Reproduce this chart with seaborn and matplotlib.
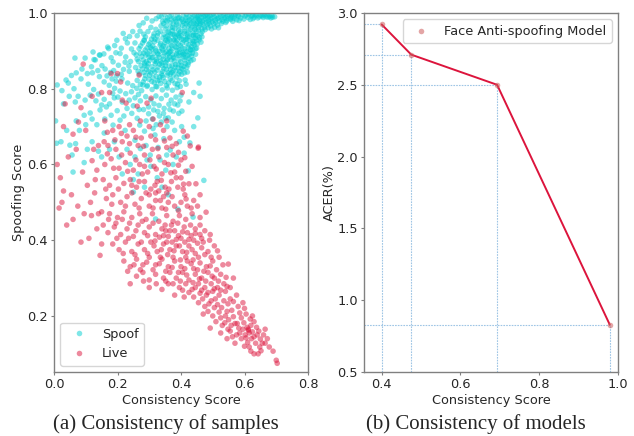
import matplotlib
matplotlib.use("Agg")
import matplotlib.pyplot as plt
import seaborn as sns
import pandas as pd

sns.set_style("ticks")
plt.rcParams['font.family'] = ['DejaVu Sans']

# ---------------- data ----------------
spoof_points = [
    # top tail
    (0.450,0.972),(0.452,0.991),(0.458,0.982),(0.462,0.998),(0.468,0.976),(0.471,0.990),(0.478,0.984),(0.481,0.997),
    (0.487,0.979),(0.491,0.993),(0.497,0.986),(0.502,0.998),(0.508,0.981),(0.512,0.992),(0.518,0.987),(0.523,0.997),
    (0.529,0.983),(0.533,0.994),(0.541,0.988),(0.548,0.985),(0.552,0.996),(0.561,0.990),(0.567,0.986),(0.572,0.997),
    (0.581,0.991),(0.588,0.987),(0.593,0.996),(0.602,0.992),(0.611,0.988),(0.614,0.997),(0.622,0.992),(0.631,0.989),
    (0.638,0.993),(0.647,0.990),(0.656,0.992),(0.668,0.990),(0.679,0.991),(0.688,0.989),(0.695,0.990),(0.634,0.996),
    (0.662,0.995),(0.583,0.980),(0.563,0.978),(0.541,0.975),(0.527,0.972),(0.515,0.968),(0.503,0.971),(0.493,0.966),
    (0.483,0.969),(0.474,0.962),(0.466,0.958),
    (0.322,0.985),(0.338,0.990),(0.351,0.981),(0.364,0.991),(0.378,0.986),(0.394,0.988),(0.418,0.996),(0.441,0.993),
    (0.456,0.994),(0.469,0.996),(0.484,0.992),(0.497,0.996),(0.539,0.999),(0.559,0.995),(0.579,0.994),(0.606,0.995),
    (0.625,0.994),(0.652,0.994),(0.671,0.995),(0.686,0.993),(0.683,0.987),(0.674,0.989),(0.659,0.988),(0.642,0.987),
    (0.627,0.985),(0.618,0.983),(0.598,0.984),(0.575,0.982),(0.556,0.983),(0.544,0.979),(0.532,0.978),(0.521,0.979),
    (0.509,0.975),(0.498,0.977),(0.488,0.973),(0.479,0.975),(0.469,0.969),(0.461,0.972),(0.455,0.955),(0.467,0.951),
    (0.476,0.956),(0.485,0.961),(0.496,0.958),(0.506,0.962),(0.518,0.961),(0.447,0.941),(0.458,0.935),
    (0.345,0.972),(0.356,0.979),(0.369,0.983),(0.376,0.971),(0.384,0.977),(0.391,0.986),(0.402,0.984),(0.409,0.973),
    (0.416,0.988),(0.421,0.978),(0.427,0.969),(0.433,0.987),(0.438,0.979),(0.444,0.957),(0.449,0.989),(0.454,0.985),
    (0.460,0.979),(0.464,0.988),(0.472,0.981),(0.477,0.993),(0.485,0.987),(0.493,0.982),(0.505,0.989),(0.514,0.985),
    (0.526,0.991),(0.536,0.987),(0.546,0.992),(0.557,0.987),(0.569,0.992),
    # upper band
    (0.331,0.991),(0.342,0.978),(0.348,0.996),(0.353,0.966),(0.357,0.987),(0.362,0.948),(0.366,0.975),(0.371,0.996),
    (0.374,0.962),(0.379,0.942),(0.382,0.983),(0.386,0.970),(0.389,0.995),(0.393,0.955),(0.397,0.979),(0.401,0.940),
    (0.404,0.967),(0.407,0.992),(0.412,0.952),(0.415,0.981),(0.419,0.944),(0.422,0.965),(0.425,0.990),(0.429,0.956),
    (0.432,0.974),(0.436,0.997),(0.439,0.941),(0.442,0.963),(0.445,0.984),(0.448,0.951),(0.455,0.962),(0.361,0.932),
    (0.388,0.929),(0.414,0.931),(0.437,0.927),(0.452,0.940),(0.463,0.945),
    (0.283,0.944),(0.296,0.951),(0.305,0.962),(0.313,0.938),(0.321,0.957),(0.328,0.947),(0.337,0.966),(0.346,0.944),
    (0.351,0.958),(0.359,0.951),(0.367,0.962),(0.373,0.953),(0.381,0.958),(0.387,0.944),(0.392,0.966),(0.399,0.952),
    (0.406,0.978),(0.411,0.961),(0.417,0.972),(0.423,0.951),(0.428,0.982),(0.434,0.962),(0.441,0.973),(0.447,0.969),
    (0.453,0.977),(0.459,0.968),
    (0.352,0.937),(0.365,0.929),(0.374,0.944),(0.383,0.936),(0.392,0.941),(0.402,0.931),(0.411,0.946),(0.420,0.937),
    (0.428,0.927),(0.435,0.941),(0.442,0.916),(0.449,0.928),
    # dense core
    (0.288,0.937),(0.307,0.931),(0.326,0.940),(0.343,0.934),(0.358,0.939),(0.377,0.930),(0.396,0.936),(0.409,0.928),
    (0.426,0.938),(0.441,0.925),(0.279,0.921),(0.298,0.917),(0.316,0.924),(0.334,0.915),(0.349,0.922),(0.366,0.918),
    (0.384,0.923),(0.398,0.914),(0.417,0.920),(0.433,0.912),(0.451,0.918),(0.268,0.906),(0.287,0.902),(0.304,0.909),
    (0.321,0.900),(0.339,0.907),(0.353,0.898),(0.372,0.905),(0.388,0.901),(0.403,0.908),(0.419,0.897),(0.437,0.903),
    (0.446,0.891),(0.259,0.889),(0.276,0.885),(0.296,0.892),(0.311,0.883),(0.329,0.890),(0.344,0.886),(0.361,0.893),
    (0.378,0.881),(0.393,0.888),(0.408,0.884),(0.425,0.880),(0.266,0.872),(0.285,0.868),(0.301,0.875),(0.319,0.866),
    (0.336,0.873),(0.352,0.869),(0.369,0.876),(0.383,0.864),(0.399,0.871),(0.414,0.867),(0.431,0.874),(0.257,0.856),
    (0.278,0.852),(0.293,0.859),(0.312,0.850),(0.327,0.857),(0.346,0.853),(0.363,0.860),(0.375,0.848),(0.391,0.855),
    (0.406,0.851),(0.269,0.839),(0.288,0.835),(0.305,0.842),(0.322,0.833),(0.338,0.840),(0.357,0.836),(0.371,0.843),
    (0.386,0.831),(0.402,0.838),(0.262,0.822),(0.281,0.818),(0.299,0.825),(0.316,0.816),(0.332,0.823),(0.349,0.819),
    (0.366,0.826),(0.381,0.814),(0.395,0.821),(0.315,0.945),(0.335,0.952),(0.352,0.928),(0.368,0.944),(0.381,0.912),
    (0.395,0.947),(0.405,0.895),(0.422,0.908),(0.438,0.948),(0.301,0.898),(0.322,0.878),(0.341,0.861),(0.358,0.878),
    (0.373,0.890),(0.392,0.864),(0.411,0.876),(0.428,0.893),(0.344,0.913),(0.362,0.906),(0.318,0.931),(0.332,0.899),
    (0.273,0.913),(0.284,0.927),(0.293,0.908),(0.302,0.921),(0.311,0.913),(0.319,0.906),(0.327,0.928),(0.336,0.919),
    (0.342,0.902),(0.351,0.911),(0.358,0.925),(0.364,0.897),(0.371,0.914),(0.378,0.927),(0.385,0.909),(0.391,0.918),
    (0.397,0.896),(0.404,0.921),(0.411,0.906),(0.418,0.931),(0.425,0.916),(0.431,0.902),(0.438,0.919),(0.444,0.934),
    (0.449,0.907),(0.457,0.929),(0.262,0.878),(0.271,0.894),(0.281,0.876),(0.289,0.889),(0.297,0.866),(0.306,0.882),
    (0.314,0.893),(0.323,0.871),(0.331,0.883),(0.339,0.868),(0.347,0.895),(0.355,0.874),(0.364,0.884),(0.372,0.861),
    (0.379,0.873),(0.387,0.889),(0.394,0.877),(0.401,0.862),(0.409,0.891),(0.416,0.883),(0.423,0.869),(0.433,0.886),
    (0.439,0.877),(0.265,0.846),(0.274,0.861),(0.283,0.843),(0.292,0.851),(0.301,0.836),(0.309,0.858),(0.317,0.844),
    (0.325,0.849),(0.333,0.831),(0.342,0.846),(0.351,0.861),(0.359,0.842),(0.367,0.851),(0.376,0.836),(0.384,0.847),
    (0.393,0.839),(0.401,0.853),(0.411,0.842),(0.418,0.856),(0.272,0.811),(0.286,0.826),(0.294,0.809),(0.308,0.819),
    (0.321,0.806),(0.336,0.814),(0.344,0.829),(0.354,0.808),(0.361,0.815),(0.372,0.822),(0.389,0.812),(0.398,0.806),
    (0.357,0.889),(0.368,0.899),(0.375,0.883),(0.386,0.893),(0.395,0.903),(0.403,0.889),(0.413,0.898),(0.421,0.888),
    (0.429,0.904),(0.436,0.894),(0.345,0.878),(0.333,0.865),(0.326,0.893),(0.317,0.873),(0.308,0.905),(0.299,0.884),
    (0.291,0.872),(0.283,0.894),(0.354,0.851),(0.366,0.839),(0.381,0.857),(0.396,0.845),(0.409,0.859),(0.326,0.821),
    (0.341,0.835),(0.312,0.829),(0.298,0.846),(0.286,0.862),
    # medium density
    (0.172,0.906),(0.191,0.914),(0.198,0.928),(0.218,0.946),(0.248,0.951),(0.268,0.967),(0.281,0.974),(0.292,0.986),
    (0.309,0.979),(0.284,0.929),(0.231,0.921),(0.244,0.905),(0.208,0.893),(0.226,0.884),(0.241,0.872),(0.186,0.871),
    (0.203,0.862),(0.219,0.851),(0.237,0.846),(0.161,0.852),(0.178,0.843),(0.197,0.834),(0.214,0.826),(0.232,0.815),
    (0.248,0.808),(0.143,0.832),(0.158,0.818),(0.174,0.809),(0.191,0.801),(0.208,0.794),(0.226,0.787),(0.244,0.792),
    (0.261,0.801),(0.276,0.795),(0.293,0.806),(0.309,0.798),(0.324,0.805),(0.341,0.797),(0.357,0.802),(0.373,0.796),
    (0.388,0.803),(0.255,0.776),(0.272,0.768),(0.289,0.779),(0.305,0.771),(0.321,0.781),(0.338,0.774),(0.354,0.783),
    (0.369,0.770),(0.384,0.778),(0.298,0.752),(0.314,0.744),(0.331,0.756),(0.347,0.748),(0.362,0.759),(0.376,0.741),
    (0.332,0.728),(0.351,0.722),(0.298,0.734),(0.282,0.745),(0.126,0.877),(0.143,0.889),(0.157,0.892),(0.169,0.910),
    (0.188,0.848),(0.121,0.842),
    (0.180,0.882),(0.195,0.895),(0.212,0.907),(0.225,0.932),(0.238,0.938),(0.255,0.921),(0.262,0.940),(0.271,0.952),
    (0.252,0.895),(0.236,0.860),(0.224,0.870),(0.212,0.838),(0.196,0.820),(0.183,0.826),(0.167,0.834),(0.151,0.861),
    (0.138,0.848),(0.118,0.858),(0.105,0.840),(0.088,0.852),(0.070,0.842),(0.055,0.835),(0.025,0.795),(0.048,0.780),
    (0.067,0.765),(0.132,0.768),(0.150,0.757),(0.185,0.788),(0.201,0.778),(0.237,0.770),(0.250,0.755),(0.266,0.785),
    (0.280,0.810),(0.315,0.760),(0.327,0.740),(0.345,0.735),(0.365,0.745),(0.380,0.760),(0.393,0.735),(0.310,0.720),
    (0.322,0.705),(0.338,0.712),(0.356,0.700),(0.372,0.712),(0.290,0.715),(0.268,0.745),(0.220,0.728),(0.180,0.730),
    (0.160,0.720),(0.120,0.720),(0.100,0.705),(0.070,0.715),(0.040,0.690),(0.022,0.660),(0.068,0.655),(0.105,0.640),
    (0.140,0.635),(0.190,0.660),(0.230,0.640),(0.255,0.620),(0.290,0.650),(0.328,0.645),(0.355,0.625),(0.375,0.600),
    (0.395,0.660),(0.305,0.595),(0.250,0.560),(0.285,0.540),(0.325,0.565),(0.410,0.630),(0.360,0.520),
    # right-hand outliers
    (0.463,0.923),(0.466,0.937),(0.445,0.905),(0.422,0.863),(0.420,0.844),(0.413,0.823),(0.457,0.815),(0.460,0.780),
    (0.416,0.812),(0.400,0.783),(0.453,0.723),(0.403,0.741),(0.410,0.672),(0.428,0.657),(0.423,0.583),(0.397,0.768),
    (0.438,0.461),(0.390,0.482),(0.320,0.456),(0.293,0.612),(0.250,0.527),(0.472,0.558),(0.440,0.700),
    # sparse left / lower
    (0.010,0.810),(0.038,0.823),(0.066,0.881),(0.098,0.881),(0.123,0.897),(0.130,0.876),(0.145,0.889),(0.045,0.815),
    (0.063,0.800),(0.076,0.780),(0.098,0.770),(0.114,0.783),(0.085,0.826),(0.108,0.812),(0.125,0.798),(0.140,0.786),
    (0.158,0.772),(0.175,0.760),(0.190,0.776),(0.095,0.730),(0.114,0.736),(0.145,0.744),(0.165,0.752),(0.186,0.704),
    (0.208,0.717),(0.224,0.690),(0.255,0.664),(0.270,0.704),(0.285,0.688),(0.303,0.625),(0.318,0.678),(0.334,0.612),
    (0.366,0.638),(0.360,0.723),(0.380,0.690),(0.390,0.757),(0.050,0.651),(0.057,0.625),(0.005,0.715),(0.008,0.656),
    (0.135,0.705),(0.158,0.683),(0.245,0.735),(0.262,0.722),(0.230,0.748),(0.215,0.765),(0.199,0.742),(0.080,0.690),
    (0.030,0.760),(0.120,0.660),(0.175,0.640),(0.205,0.620),(0.240,0.600),(0.272,0.642),(0.346,0.668),(0.312,0.695),
    (0.352,0.585),(0.385,0.620),(0.402,0.700),(0.425,0.765),(0.440,0.790),(0.340,0.540),(0.215,0.575),(0.265,0.575),
    (0.150,0.620),(0.095,0.605),(0.060,0.580),
]

live_points = [
    # sparse left
    (0.035,0.760),(0.085,0.750),(0.120,0.780),(0.092,0.865),(0.077,0.712),(0.030,0.700),(0.010,0.600),(0.020,0.565),
    (0.016,0.485),(0.040,0.440),(0.025,0.500),(0.055,0.520),(0.060,0.455),(0.075,0.490),(0.045,0.620),(0.070,0.640),
    (0.090,0.580),(0.105,0.545),(0.030,0.530),(0.095,0.470),(0.115,0.500),(0.120,0.610),(0.140,0.650),(0.060,0.680),
    (0.100,0.690),(0.130,0.560),(0.140,0.470),(0.135,0.430),(0.110,0.405),(0.085,0.395),(0.150,0.390),(0.145,0.360),
    (0.125,0.640),(0.135,0.585),(0.128,0.525),(0.118,0.465),(0.158,0.660),
    # inside the spoof area
    (0.150,0.790),(0.175,0.790),(0.180,0.840),(0.200,0.840),(0.210,0.818),(0.268,0.836),(0.215,0.770),(0.227,0.762),
    (0.262,0.754),(0.293,0.762),(0.306,0.775),(0.404,0.790),(0.407,0.688),(0.420,0.675),(0.429,0.649),(0.454,0.643),
    (0.400,0.612),(0.400,0.565),(0.425,0.549),(0.447,0.549),(0.407,0.535),(0.416,0.509),(0.479,0.474),(0.455,0.646),
    # upper body
    (0.160,0.715),(0.185,0.690),(0.205,0.700),(0.230,0.675),(0.250,0.690),(0.275,0.670),(0.300,0.700),(0.320,0.665),
    (0.345,0.690),(0.365,0.670),(0.385,0.655),(0.170,0.650),(0.195,0.640),(0.215,0.660),(0.240,0.630),(0.265,0.650),
    (0.285,0.625),(0.310,0.640),(0.330,0.620),(0.355,0.645),(0.375,0.625),(0.160,0.600),(0.180,0.615),(0.205,0.590),
    (0.225,0.605),(0.250,0.585),(0.270,0.600),(0.295,0.580),(0.315,0.595),(0.340,0.575),(0.360,0.600),(0.380,0.580),
    (0.155,0.560),(0.175,0.545),(0.195,0.565),(0.220,0.550),(0.240,0.560),(0.260,0.540),(0.285,0.555),(0.305,0.535),
    (0.325,0.555),(0.350,0.540),(0.370,0.555),(0.390,0.540),(0.165,0.510),(0.185,0.520),(0.210,0.500),(0.230,0.515),
    (0.255,0.495),(0.275,0.510),(0.300,0.490),(0.320,0.505),(0.340,0.485),(0.360,0.500),(0.380,0.490),(0.400,0.500),
    (0.420,0.490),(0.440,0.505),(0.150,0.475),(0.175,0.470),(0.200,0.460),(0.220,0.475),(0.245,0.460),(0.270,0.470),
    (0.290,0.455),(0.310,0.470),(0.330,0.450),(0.355,0.465),(0.375,0.450),(0.395,0.465),(0.415,0.455),(0.435,0.470),
    (0.460,0.460),(0.320,0.525),(0.345,0.515),(0.300,0.520),(0.330,0.530),(0.355,0.525),
    (0.168,0.685),(0.192,0.665),(0.212,0.682),(0.238,0.655),(0.258,0.672),(0.282,0.648),(0.305,0.675),(0.327,0.642),
    (0.348,0.662),(0.372,0.648),(0.392,0.632),(0.412,0.618),(0.168,0.628),(0.188,0.590),(0.213,0.625),(0.232,0.582),
    (0.258,0.612),(0.278,0.575),(0.302,0.612),(0.322,0.588),(0.348,0.605),(0.368,0.578),(0.392,0.598),(0.415,0.582),
    (0.435,0.595),(0.163,0.535),(0.182,0.495),(0.203,0.535),(0.225,0.490),(0.245,0.525),(0.268,0.485),(0.290,0.525),
    (0.312,0.485),(0.335,0.505),(0.352,0.482),(0.372,0.515),(0.392,0.478),(0.412,0.520),(0.432,0.485),(0.452,0.490),
    (0.460,0.520),(0.238,0.705),(0.272,0.715),(0.312,0.720),(0.335,0.705),(0.355,0.715),(0.285,0.595),(0.268,0.555),
    (0.245,0.545),(0.318,0.545),(0.338,0.558),(0.362,0.535),(0.385,0.565),(0.408,0.548),
    # dense middle
    (0.155,0.440),(0.170,0.420),(0.190,0.435),(0.210,0.415),(0.230,0.430),(0.250,0.410),(0.265,0.440),(0.285,0.420),
    (0.300,0.435),(0.320,0.415),(0.340,0.430),(0.360,0.410),(0.380,0.425),(0.400,0.405),(0.420,0.420),(0.440,0.400),
    (0.460,0.415),(0.185,0.390),(0.205,0.375),(0.225,0.395),(0.245,0.370),(0.265,0.390),(0.285,0.375),(0.305,0.395),
    (0.325,0.370),(0.345,0.390),(0.365,0.375),(0.385,0.385),(0.405,0.370),(0.425,0.385),(0.445,0.365),(0.465,0.380),
    (0.485,0.370),(0.220,0.345),(0.240,0.330),(0.260,0.350),(0.280,0.335),(0.300,0.355),(0.320,0.335),(0.340,0.350),
    (0.360,0.330),(0.380,0.345),(0.400,0.330),(0.420,0.345),(0.440,0.325),(0.460,0.340),(0.480,0.330),(0.500,0.345),
    (0.520,0.355),(0.549,0.337),(0.260,0.305),(0.280,0.315),(0.300,0.295),(0.320,0.310),(0.345,0.300),(0.365,0.315),
    (0.385,0.300),(0.405,0.315),(0.425,0.295),(0.445,0.310),(0.465,0.300),(0.485,0.315),(0.505,0.300),(0.525,0.310),
    (0.565,0.300),(0.300,0.275),(0.340,0.270),(0.360,0.285),(0.395,0.275),(0.415,0.285),(0.435,0.270),(0.455,0.285),
    (0.475,0.275),(0.495,0.285),(0.515,0.275),(0.535,0.285),(0.240,0.285),(0.380,0.255),(0.410,0.250),(0.350,0.440),
    (0.370,0.440),(0.390,0.445),(0.410,0.435),(0.430,0.440),(0.445,0.430),(0.460,0.440),(0.470,0.395),(0.490,0.400),
    (0.505,0.385),
    (0.172,0.455),(0.195,0.445),(0.215,0.455),(0.238,0.445),(0.258,0.425),(0.278,0.450),(0.295,0.412),(0.312,0.445),
    (0.332,0.408),(0.352,0.425),(0.372,0.395),(0.392,0.412),(0.412,0.395),(0.432,0.412),(0.452,0.392),(0.475,0.425),
    (0.492,0.415),(0.198,0.405),(0.218,0.365),(0.235,0.405),(0.255,0.362),(0.275,0.395),(0.295,0.365),(0.315,0.385),
    (0.335,0.355),(0.355,0.395),(0.375,0.355),(0.395,0.385),(0.415,0.355),(0.435,0.375),(0.455,0.355),(0.475,0.362),
    (0.495,0.355),(0.515,0.372),(0.232,0.318),(0.252,0.335),(0.272,0.322),(0.292,0.342),(0.312,0.322),(0.332,0.338),
    (0.352,0.318),(0.372,0.328),(0.392,0.315),(0.412,0.325),(0.432,0.338),(0.452,0.322),(0.472,0.318),(0.492,0.332),
    (0.512,0.322),(0.532,0.335),(0.282,0.292),(0.322,0.285),(0.352,0.292),(0.375,0.285),(0.398,0.292),(0.418,0.308),
    (0.438,0.288),(0.458,0.298),(0.478,0.292),(0.498,0.305),(0.518,0.292),(0.542,0.302),(0.405,0.268),(0.425,0.262),
    (0.445,0.275),(0.465,0.268),(0.485,0.262),(0.505,0.272),(0.525,0.268),(0.545,0.278),(0.345,0.412),(0.365,0.425),
    (0.385,0.402),(0.405,0.422),(0.425,0.402),(0.445,0.418),(0.465,0.405),(0.318,0.398),(0.338,0.375),(0.358,0.362),
    (0.378,0.372),(0.398,0.348),(0.418,0.368),(0.438,0.348),
    # tail
    (0.440,0.250),(0.460,0.260),(0.480,0.255),(0.500,0.265),(0.520,0.255),(0.540,0.265),(0.555,0.275),(0.455,0.235),
    (0.475,0.225),(0.495,0.240),(0.515,0.230),(0.535,0.240),(0.555,0.245),(0.575,0.255),(0.470,0.205),(0.492,0.168),
    (0.500,0.200),(0.520,0.210),(0.540,0.200),(0.560,0.215),(0.580,0.225),(0.595,0.235),(0.510,0.185),(0.530,0.175),
    (0.550,0.190),(0.570,0.180),(0.590,0.195),(0.605,0.205),(0.577,0.180),(0.555,0.160),(0.575,0.150),(0.595,0.165),
    (0.612,0.162),(0.608,0.170),(0.615,0.155),(0.620,0.175),(0.630,0.185),(0.590,0.140),(0.610,0.130),(0.630,0.145),
    (0.645,0.160),(0.656,0.128),(0.650,0.139),(0.640,0.150),(0.600,0.120),(0.620,0.107),(0.630,0.100),(0.643,0.100),
    (0.660,0.150),(0.665,0.165),(0.690,0.107),(0.700,0.083),(0.703,0.075),(0.570,0.128),(0.545,0.140),(0.525,0.155),
    (0.625,0.200),(0.600,0.220),
    (0.468,0.245),(0.488,0.232),(0.508,0.245),(0.528,0.222),(0.548,0.232),(0.565,0.238),(0.485,0.212),(0.505,0.222),
    (0.525,0.195),(0.545,0.212),(0.565,0.198),(0.585,0.208),(0.538,0.182),(0.558,0.175),(0.582,0.168),(0.598,0.182),
    (0.618,0.192),(0.602,0.150),(0.622,0.140),(0.635,0.128),(0.648,0.118),(0.585,0.155),(0.605,0.142),(0.615,0.118),
    (0.652,0.108),(0.665,0.128),(0.672,0.140),(0.678,0.118),(0.612,0.165),(0.625,0.158),(0.562,0.145),(0.548,0.165),
    (0.638,0.170),
]

sample_classes = ['Spoof', 'Live']
model_consistency = [0.400, 0.475, 0.693, 0.979]
model_acer = [2.92, 2.71, 2.50, 0.83]
model_label = 'Face Anti-spoofing Model'

left_xticks = [0.0, 0.2, 0.4, 0.6, 0.8]
left_yticks = [0.2, 0.4, 0.6, 0.8, 1.0]
right_xticks = [0.4, 0.6, 0.8, 1.0]
right_yticks = [0.5, 1.0, 1.5, 2.0, 2.5, 3.0]

FS = 9.3

# ---------------- figure ----------------
W, H = 634, 436
fig = plt.figure(figsize=(W / 100, H / 100), dpi=100)
ax1 = fig.add_axes([54 / W, 1 - 372 / H, 254 / W, 359 / H])
ax2 = fig.add_axes([364 / W, 1 - 372 / H, 254 / W, 359 / H])

rows = [(x, y, sample_classes[0]) for x, y in spoof_points] + \
       [(x, y, sample_classes[1]) for x, y in live_points]
df = pd.DataFrame(rows, columns=['Consistency Score', 'Spoofing Score', 'Type'])

sns.scatterplot(data=df, x='Consistency Score', y='Spoofing Score', hue='Type',
                hue_order=sample_classes,
                palette={'Spoof': '#00CED1', 'Live': '#DC143C'},
                s=16, alpha=0.5, linewidth=0, ax=ax1)
handles, labels = ax1.get_legend_handles_labels()
ax1.legend(handles, labels, loc='lower left', fontsize=FS, frameon=True)
ax1.set_xlim(0, 0.8)
ax1.set_ylim(0.052, 1.0)
ax1.set_xticks(left_xticks)
ax1.set_yticks(left_yticks)
ax1.set_xlabel('Consistency Score', fontsize=FS, labelpad=2)
ax1.set_ylabel('Spoofing Score', fontsize=FS, labelpad=1.5)

# right panel
guide = dict(color='#9ec5e5', lw=0.8, linestyle=(0, (1.5, 1)), zorder=1)
ax2.hlines(model_acer, 0.355, model_consistency, **guide)
ax2.vlines(model_consistency, 0.5, model_acer, **guide)
sns.lineplot(x=model_consistency, y=model_acer, color='#DC143C', lw=1.4, ax=ax2, zorder=2)
sns.scatterplot(x=model_consistency, y=model_acer, color='indianred', alpha=0.55, s=16,
                linewidth=0, label=model_label, ax=ax2, zorder=3)
ax2.legend(loc='upper right', fontsize=FS, frameon=True)
ax2.set_xlim(0.355, 1.0)
ax2.set_ylim(0.5, 3.0)
ax2.set_xticks(right_xticks)
ax2.set_yticks(right_yticks)
ax2.set_xlabel('Consistency Score', fontsize=FS, labelpad=2)
ax2.set_ylabel('ACER(%)', fontsize=FS, labelpad=1)

for ax in (ax1, ax2):
    for sp in ax.spines.values():
        sp.set_color('0.5')
        sp.set_linewidth(1.0)
    ax.tick_params(labelsize=FS, color='0.5', length=2, pad=2.5)

fig.text(166 / W, 1 - 424 / H, '(a) Consistency of samples', ha='center', va='center',
         fontsize=15, family=['Liberation Serif', 'DejaVu Serif'])
fig.text(476 / W, 1 - 424 / H, '(b) Consistency of models', ha='center', va='center',
         fontsize=15, family=['Liberation Serif', 'DejaVu Serif'])

fig.savefig('out.png', dpi=100)
